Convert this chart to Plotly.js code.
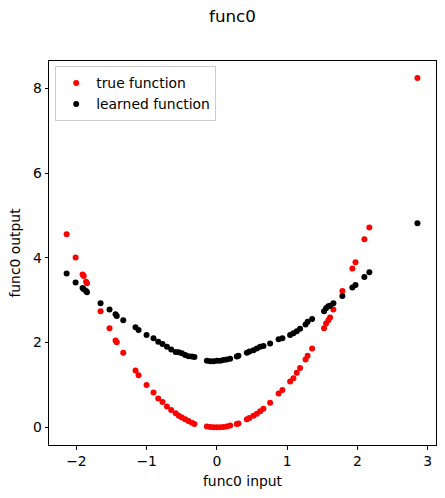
<!DOCTYPE html>
<html>
<head>
<meta charset="utf-8">
<script src="https://cdn.plot.ly/plotly-3.0.1.min.js"></script>
<style>html,body{margin:0;padding:0;background:#fff;}#chart{width:445px;height:498px;}</style>
</head>
<body>
<div id="chart"></div>
<script>
// input values (x) shared by both series
var inputs = [-2.139, -2.011, -1.912, -1.895, -1.862, -1.849, -1.656, -1.528, -1.442, -1.425,
  -1.333, -1.158, -1.115, -1.001, -0.902, -0.835, -0.774, -0.711, -0.650, -0.586,
  -0.543, -0.498, -0.451, -0.404, -0.356, -0.319,
  -0.142, -0.095, -0.048, 0.000, 0.047, 0.094, 0.142, 0.189, 0.284, 0.307,
  0.427, 0.464, 0.521, 0.569, 0.616, 0.663, 0.758, 0.879, 0.933, 1.043,
  1.090, 1.138, 1.185, 1.263, 1.292, 1.356, 1.526, 1.555, 1.587, 1.612,
  1.659, 1.787, 1.929, 1.974, 2.100, 2.171, 2.856];

var trueValues = [4.56, 4.01, 3.61, 3.57, 3.44, 3.40, 2.74, 2.34, 2.05, 2.01,
  1.76, 1.34, 1.23, 1.00, 0.82, 0.68, 0.60, 0.49, 0.41, 0.33,
  0.27, 0.23, 0.19, 0.15, 0.11, 0.08,
  0.02, 0.01, 0.00, 0.00, 0.00, 0.01, 0.02, 0.04, 0.08, 0.09,
  0.19, 0.22, 0.27, 0.32, 0.38, 0.44, 0.58, 0.80, 0.88, 1.08,
  1.16, 1.29, 1.40, 1.60, 1.69, 1.86, 2.34, 2.45, 2.53, 2.59,
  2.78, 3.22, 3.75, 3.90, 4.44, 4.72, 8.25];

var learnedValues = [3.63, 3.42, 3.29, 3.26, 3.22, 3.19, 2.93, 2.78, 2.67, 2.63,
  2.53, 2.36, 2.30, 2.18, 2.10, 2.02, 1.97, 1.90, 1.84, 1.78,
  1.77, 1.75, 1.71, 1.68, 1.67, 1.66,
  1.57, 1.56, 1.56, 1.57, 1.57, 1.59, 1.60, 1.62, 1.67, 1.69,
  1.76, 1.79, 1.82, 1.86, 1.90, 1.92, 1.98, 2.08, 2.10, 2.18,
  2.22, 2.27, 2.33, 2.43, 2.49, 2.56, 2.74, 2.81, 2.86, 2.87,
  2.93, 3.10, 3.30, 3.36, 3.55, 3.66, 4.82];

var xTicks = [-2, -1, 0, 1, 2, 3];
var xTickText = ['\u22122', '\u22121', '0', '1', '2', '3'];
var yTicks = [0, 2, 4, 6, 8];
var yTickText = ['0', '2', '4', '6', '8'];

var FONT = 'DejaVu Sans, sans-serif';
var FS = 13.9;

var traces = [
  {x: inputs, y: trueValues, mode: 'markers', type: 'scatter', name: 'true function',
   marker: {color: '#ff0000', size: 6}},
  {x: inputs, y: learnedValues, mode: 'markers', type: 'scatter', name: 'learned function',
   marker: {color: '#000000', size: 6}}
];

var axisCommon = {
  showgrid: false, zeroline: false, showline: true, mirror: true,
  linecolor: '#000', linewidth: 1, ticks: 'outside', ticklen: 3.5, tickwidth: 1,
  tickcolor: '#000', tickfont: {family: FONT, size: FS, color: '#000'}
};

var layout = {
  width: 445, height: 498,
  margin: {l: 49, r: 9, t: 61, b: 53, pad: 0},
  paper_bgcolor: '#fff', plot_bgcolor: '#fff',
  font: {family: FONT, size: FS, color: '#000'},
  title: {text: 'func0', x: 0.474, xref: 'paper', xanchor: 'center', y: 1 - 16 / 498, yref: 'container', yanchor: 'middle',
          font: {family: FONT, size: 16.7, color: '#000'}},
  xaxis: Object.assign({}, axisCommon, {range: [-2.39, 3.12], tickvals: xTicks, ticktext: xTickText,
          title: {text: 'func0 input', font: {family: FONT, size: FS, color: '#000'}, standoff: 8}}),
  yaxis: Object.assign({}, axisCommon, {range: [-0.418, 8.65], tickvals: yTicks, ticktext: yTickText,
          title: {text: 'func0 output', font: {family: FONT, size: FS, color: '#000'}, standoff: 9}}),
  showlegend: true,
  legend: {x: 0.016, y: 0.986, xanchor: 'left', yanchor: 'top', bgcolor: 'rgba(255,255,255,0.8)',
           bordercolor: '#cccccc', borderwidth: 1, font: {family: FONT, size: FS, color: '#000'},
           itemwidth: 30, tracegroupgap: 0}
};

Plotly.newPlot('chart', traces, layout, {displayModeBar: false, staticPlot: true});
</script>
</body>
</html>
